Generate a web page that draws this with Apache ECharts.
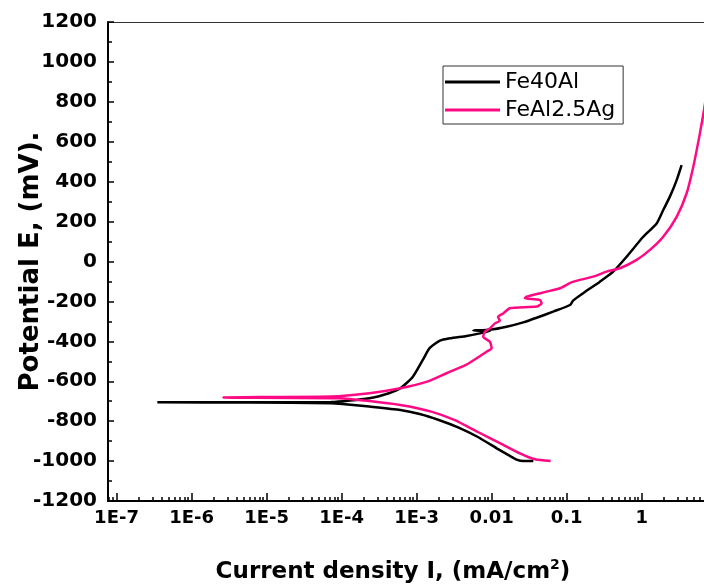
<!DOCTYPE html>
<html>
<head>
<meta charset="utf-8">
<title>Polarization curves</title>
<script src="https://cdn.jsdelivr.net/npm/echarts@6/dist/echarts.min.js"></script>
</head>
<body style="margin:0">
<div id="main" style="width:704px;height:585px;"></div>
<script>
// current density I (mA/cm2) and potential E (mV)
var fe40alI = [0.036, 0.0267, 0.0211, 0.0166, 0.0117, 0.00647, 0.00357, 0.00198, 0.0011, 6.08e-4,
    2.35e-4, 1.03e-4, 7.2e-5, 6.0e-6, 3.5e-7, 6.0e-6, 7.2e-5, 2.35e-4, 4.27e-4, 6.08e-4,
    8.93e-4, 0.00121, 0.0015, 0.00205, 0.00278, 0.00464, 0.00698, 0.0095, 0.0057, 0.0095,
    0.0158, 0.0264, 0.0398, 0.0662, 0.111, 0.122, 0.166, 0.278, 0.418, 0.631,
    1.05, 1.585, 1.94, 2.38, 2.93, 3.41];
var fe40alE = [-1000, -1000, -991, -969, -936, -878, -831, -794, -764, -744,
    -727, -714, -710, -707, -705, -705, -704, -685, -660, -635,
    -577, -493, -433, -397, -385, -373, -360, -348, -346, -342,
    -327, -305, -282, -251, -218, -196, -159, -101, -51, 24,
    124, 191, 258, 325, 408, 483];

var feal25agI = [0.0612, 0.0381, 0.0238, 0.0131, 0.00647, 0.00318, 0.00157, 6.08e-4, 2.35e-4, 9.14e-5,
    2.64e-6, 8.1e-6, 7.2e-5, 2.35e-4, 6.08e-4, 0.00139, 0.00251, 0.00454, 0.00631, 0.00857,
    0.0100, 0.0095, 0.00773, 0.00815, 0.0095, 0.0111, 0.0129, 0.0122, 0.0143, 0.0175,
    0.0398, 0.0464, 0.044, 0.0278, 0.0293, 0.0541, 0.0815, 0.118, 0.226, 0.341,
    0.514, 0.858, 1.29, 1.94, 2.93, 3.98, 4.88, 5.98, 6.78, 7.6];
var feal25agE = [-1000, -991, -961, -911, -853, -794, -752, -719, -699, -685,
    -682, -679, -677, -660, -635, -602, -560, -518, -485, -452,
    -435, -402, -377, -352, -335, -310, -297, -277, -260, -234,
    -226, -209, -193, -184, -176, -151, -134, -103, -76, -51,
    -34, 8, 58, 124, 224, 342, 475, 642, 759, 880];

var seriesNames = ['Fe40Al', 'FeAl2.5Ag'];
var decades = [1e-7, 1e-6, 1e-5, 1e-4, 1e-3, 0.01, 0.1, 1];
var xMin = 7.7e-8, xMax = 6.78;

// 2..9 in every decade for the small ticks
var minorTicks = [];
[1e-8].concat(decades).forEach(function (d) {
    for (var k = 2; k <= 9; k++) {
        var v = k * d;
        if (v > xMin && v < xMax) minorTicks.push(v);
    }
});

function pairs(xs, ys) {
    return xs.map(function (x, i) { return [x, ys[i]]; });
}

var font = 'DejaVu Sans';
var myChart = echarts.init(document.getElementById('main'));

var option = {
    animation: false,
    backgroundColor: '#fff',
    grid: { left: 108, top: 22, right: 0, bottom: 84, containLabel: false, outerBoundsMode: 'none' },
    legend: {
        data: seriesNames,
        orient: 'vertical',
        left: 443,
        top: 66,
        padding: [3, 8, 1, 2],
        itemGap: 2,
        itemWidth: 55,
        itemHeight: 3,
        icon: 'rect',
        borderColor: '#333',
        borderWidth: 1,
        borderRadius: 0,
        textStyle: { fontFamily: font, fontSize: 22, color: '#000', lineHeight: 26 }
    },
    xAxis: [
        {
            type: 'log',
            position: 'bottom',
            min: xMin,
            max: xMax,
            splitLine: { show: false },
            axisLine: { onZero: false, lineStyle: { color: '#000', width: 2 } },
            axisTick: { customValues: decades, inside: true, length: 8, lineStyle: { color: '#000', width: 1.5 } },
            axisLabel: {
                customValues: decades,
                margin: 8,
                fontFamily: font,
                fontWeight: 'bold',
                fontSize: 18,
                color: '#000',
                formatter: function (v) {
                    if (v >= 0.01) return String(+v.toPrecision(3));
                    return '1E' + Math.round(Math.log10(v));
                }
            },
            name: '{a|Current density I, (mA/cm}{s|2}{a|)}',
            nameLocation: 'middle',
            nameGap: 57,
            nameMoveOverlap: false,
            nameTextStyle: {
                padding: [0, 26, 0, 0],
                rich: {
                    a: { fontFamily: font, fontWeight: 'bold', fontSize: 23, color: '#000', lineHeight: 28 },
                    s: { fontFamily: font, fontWeight: 'bold', fontSize: 14, color: '#000', lineHeight: 14, verticalAlign: 'top' }
                }
            }
        },
        {
            // small ticks only
            type: 'log',
            position: 'bottom',
            min: xMin,
            max: xMax,
            splitLine: { show: false },
            axisLine: { show: false, onZero: false },
            axisTick: { customValues: minorTicks, inside: true, length: 4, lineStyle: { color: '#000', width: 1.5 } },
            axisLabel: { show: false }
        },
        {
            // top frame line
            type: 'log',
            position: 'top',
            min: xMin,
            max: xMax,
            splitLine: { show: false },
            axisLine: { onZero: false, lineStyle: { color: '#333', width: 1 } },
            axisTick: { show: false },
            axisLabel: { show: false }
        }
    ],
    yAxis: {
        type: 'value',
        min: -1200,
        max: 1200,
        interval: 200,
        splitLine: { show: false },
        axisLine: { onZero: false, lineStyle: { color: '#000', width: 2 } },
        axisTick: { inside: true, length: 6, lineStyle: { color: '#000', width: 1.5 } },
        minorTick: { show: true, splitNumber: 2, length: 4, lineStyle: { color: '#000', width: 1.5 } },
        axisLabel: {
            margin: 11, fontFamily: font, fontWeight: 'bold', fontSize: 20, color: '#000',
            formatter: function (v) { return String(v); }
        },
        name: 'Potential E, (mV).',
        nameLocation: 'middle',
        nameGap: 64,
        nameMoveOverlap: false,
        nameTextStyle: { fontFamily: font, fontWeight: 'bold', fontSize: 26, color: '#000' }
    },
    series: [
        {
            name: seriesNames[0],
            type: 'line',
            xAxisIndex: 0,
            symbol: 'none',
            smooth: 0.2,
            color: '#000',
            lineStyle: { width: 2.5 },
            data: pairs(fe40alI, fe40alE)
        },
        {
            name: seriesNames[1],
            type: 'line',
            xAxisIndex: 0,
            symbol: 'none',
            smooth: 0.2,
            color: '#ff0a85',
            lineStyle: { width: 2.5 },
            data: pairs(feal25agI, feal25agE)
        }
    ]
};
myChart.setOption(option);
</script>
</body>
</html>
